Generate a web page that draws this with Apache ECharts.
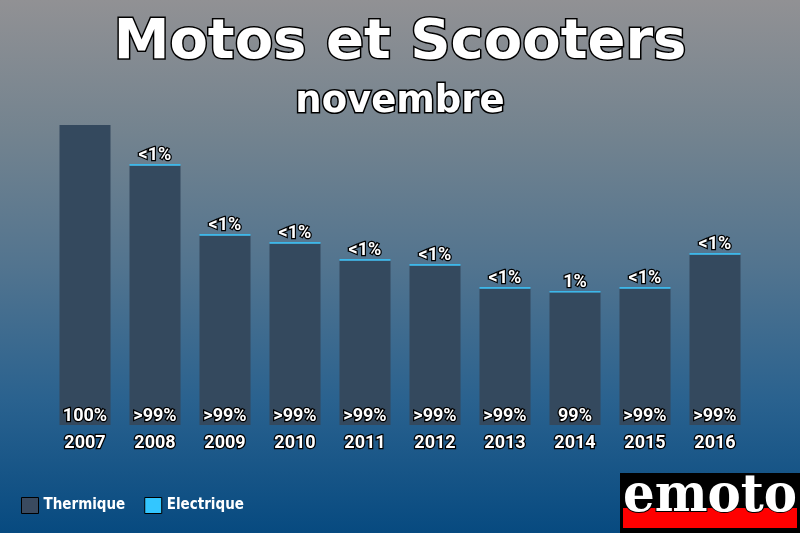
<!DOCTYPE html>
<html><head><meta charset="utf-8">
<script src="https://cdn.jsdelivr.net/npm/echarts@6/dist/echarts.min.js"></script>
<style>html,body{margin:0;padding:0;}#c{width:800px;height:533px;}</style>
</head><body><div id="c"></div>
<script>
const years = ['2007','2008','2009','2010','2011','2012','2013','2014','2015','2016'];
const thermique = [3000, 2592, 1892, 1812, 1642, 1592, 1362, 1325, 1362, 1702];
const electrique = [0, 18, 18, 18, 18, 18, 18, 15, 18, 18];
const topLabels = ['', '<1%', '<1%', '<1%', '<1%', '<1%', '<1%', '1%', '<1%', '<1%'];
const bottomLabels = ['100%', '>99%', '>99%', '>99%', '>99%', '>99%', '>99%', '99%', '>99%', '>99%'];

const chart = echarts.init(document.getElementById('c'), null, {renderer: 'canvas'});
const lblFont = 'Roboto';
chart.setOption({
  backgroundColor: new echarts.graphic.LinearGradient(0, 0, 0, 1, [
    {offset: 0, color: '#919194'},
    {offset: 0.25, color: '#73838f'},
    {offset: 0.5, color: '#52748f'},
    {offset: 0.75, color: '#2a628f'},
    {offset: 1, color: '#074a80'}
  ]),
  animation: false,
  title: [
    {text: 'Motos et Scooters', left: 'center', top: 10,
     textStyle: {fontFamily: 'DejaVu Sans', fontWeight: 'bold', fontSize: 56, color: '#fff',
       textBorderColor: '#000', textBorderWidth: 3}},
    {text: 'novembre', left: 'center', top: 79,
     textStyle: {fontFamily: 'DejaVu Sans', fontWeight: 'bold', fontSize: 37, color: '#fff',
       textBorderColor: '#000', textBorderWidth: 3}}
  ],
  legend: {
    left: 21, top: 497, padding: 0, icon: 'rect', itemWidth: 17, itemHeight: 16, itemGap: 19,
    textStyle: {fontFamily: 'DejaVu Sans Condensed', fontWeight: 'bold', fontSize: 15, color: '#fff'},
    itemStyle: {borderColor: '#000', borderWidth: 1},
    data: [
      {name: 'Thermique', itemStyle: {color: '#3a4a5f'}},
      {name: 'Electrique', itemStyle: {color: '#33c6ff'}}
    ]
  },
  grid: {left: 50, right: 50, top: 125, bottom: 108},
  xAxis: {
    type: 'category', data: years,
    axisLine: {show: false}, axisTick: {show: false},
    axisLabel: {fontFamily: lblFont, fontWeight: 'bold', fontSize: 18, color: '#fff',
      textBorderColor: '#000', textBorderWidth: 2.5, margin: 9}
  },
  yAxis: {type: 'value', min: 0, max: 3000, show: false, splitLine: {show: false}},
  series: [
    {name: 'Thermique', type: 'bar', stack: 't', data: thermique, barWidth: 51,
     itemStyle: {color: '#34495e'},
     label: {show: true, position: 'insideBottom', distance: 0,
       formatter: p => bottomLabels[p.dataIndex],
       fontFamily: lblFont, fontWeight: 'bold', fontSize: 18, color: '#fff',
       textBorderColor: '#000', textBorderWidth: 2.5}},
    {name: 'Electrique', type: 'bar', stack: 't', data: electrique, barWidth: 51,
     itemStyle: {color: '#3cb8ea'},
     label: {show: true, position: 'top', distance: 0,
       formatter: p => topLabels[p.dataIndex],
       fontFamily: lblFont, fontWeight: 'bold', fontSize: 18, color: '#fff',
       textBorderColor: '#000', textBorderWidth: 2.5}}
  ],
  graphic: [
    {type: 'rect', shape: {x: 620, y: 473, width: 180, height: 60}, style: {fill: '#000'}},
    {type: 'rect', shape: {x: 623, y: 508, width: 174, height: 20}, style: {fill: '#ff0000'}},
    {type: 'text', x: 710, y: 497, scaleX: 0.96,
     style: {text: 'emoto', font: 'bold 52px "DejaVu Serif"', fill: '#fff', stroke: '#000', lineWidth: 2,
       textAlign: 'center', textVerticalAlign: 'middle'}}
  ]
});
</script></body></html>
